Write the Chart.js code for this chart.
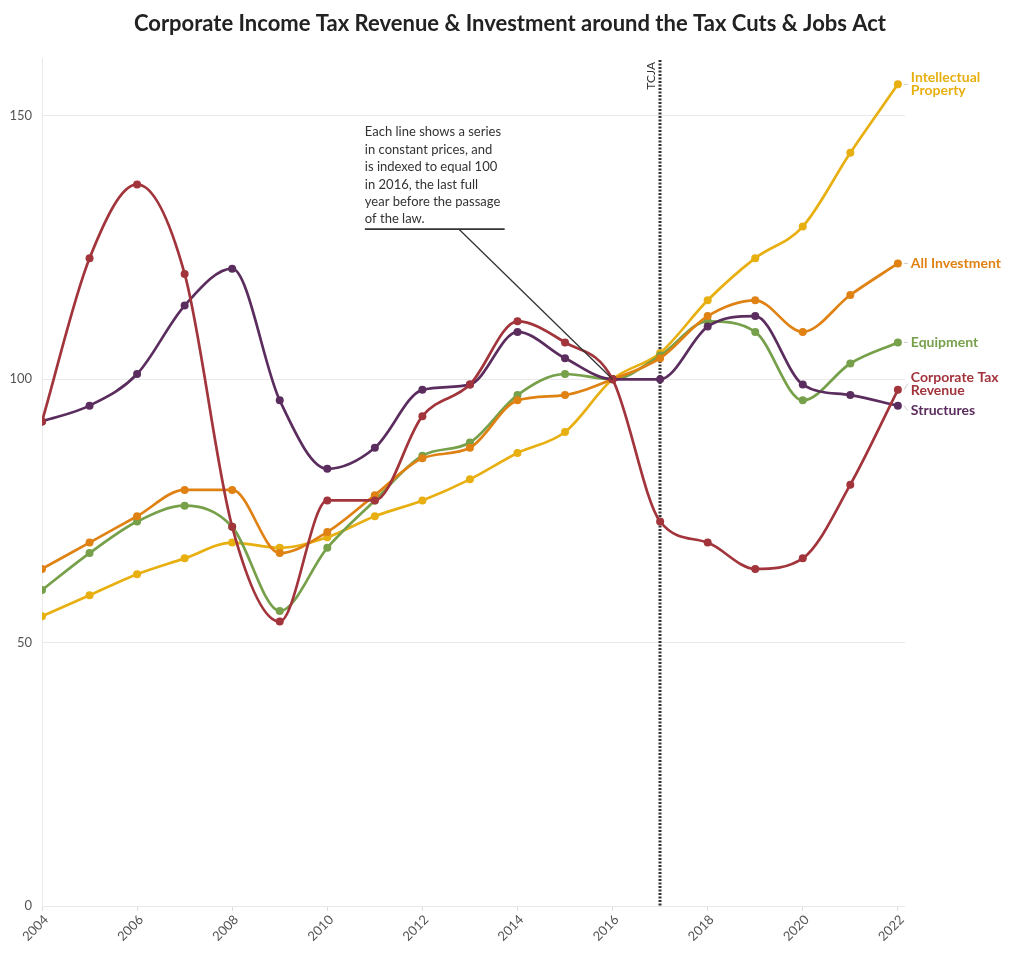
<!DOCTYPE html>
<html>
<head>
<meta charset="utf-8">
<script src="https://cdn.jsdelivr.net/npm/chart.js@4/dist/chart.umd.min.js"></script>
<style>
  html, body { margin: 0; padding: 0; background: #fff; }
  #wrap { width: 1020px; height: 960px; }
</style>
</head>
<body>
<div id="wrap"><canvas id="taxChart" width="1020" height="960"></canvas></div>
<script>
// years and series (index, 2016 = 100)
const years = [2004, 2005, 2006, 2007, 2008, 2009, 2010, 2011, 2012, 2013,
               2014, 2015, 2016, 2017, 2018, 2019, 2020, 2021, 2022];

const intellectualProperty = [55, 59, 63, 66, 69, 68, 70, 74, 77, 81, 86, 90, 100, 105, 115, 123, 129, 143, 156];
const allInvestment = [64, 69, 74, 79, 79, 67, 71, 78, 85, 87, 96, 97, 100, 104, 112, 115, 109, 116, 122];
const equipment = [60, 67, 73, 76, 72, 56, 68, 77, 85.5, 88, 97, 101, 100, 104.5, 111, 109, 96, 103, 107];
const corporateTax = [92, 123, 137, 120, 72, 54, 77, 77, 93, 99, 111, 107, 100, 73, 69, 64, 66, 80, 98];
const structures = [92, 95, 101, 114, 121, 96, 83, 87, 98, 99, 109, 104, 100, 100, 110, 112, 99, 97, 95];

const yTicks = [0, 50, 100, 150];
const xTicks = [2004, 2006, 2008, 2010, 2012, 2014, 2016, 2018, 2020, 2022];

const seriesNames = [['Intellectual', 'Property'], ['All Investment'], ['Equipment'], ['Corporate Tax', 'Revenue'], ['Structures']];
const seriesColors = ['#e8af10', '#df8213', '#76a04a', '#a2343c', '#5b2d5e'];
const seriesData = [intellectualProperty, allInvestment, equipment, corporateTax, structures];
const labelNudge = [0, 0, 0, -6, 5];

const titleText = 'Corporate Income Tax Revenue & Investment around the Tax Cuts & Jobs Act';
const lawYear = 2017;
const noteLines = ['Each line shows a series', 'in constant prices, and', 'is indexed to equal 100',
                   'in 2016, the last full', 'year before the passage', 'of the law.'];

const toPoints = (arr) => arr.map((v, i) => ({ x: years[i], y: v }));

const datasets = seriesData.map((arr, i) => ({
    label: seriesNames[i].join(' '),
    data: toPoints(arr),
    borderColor: seriesColors[i],
    backgroundColor: seriesColors[i],
    borderWidth: 2.7,
    pointRadius: 4,
    pointBorderWidth: 0,
    cubicInterpolationMode: 'monotone',
    order: [5, 3, 4, 1, 2][i]
}));

const extrasPlugin = {
    id: 'extras',
    beforeDatasetsDraw(chart) {
        const ctx = chart.ctx;
        const x = chart.scales.x;
        const area = chart.chartArea;
        ctx.save();
        // title, centred on the whole page
        ctx.fillStyle = '#222';
        ctx.font = 'bold 22px Lato';
        ctx.textAlign = 'center';
        ctx.textBaseline = 'middle';
        ctx.fillText(titleText, chart.width / 2, 24);
        // law line
        const lx = Math.round(x.getPixelForValue(lawYear));
        ctx.strokeStyle = '#333';
        ctx.lineWidth = 3;
        ctx.setLineDash([2, 1.5]);
        ctx.beginPath();
        ctx.moveTo(lx, area.top + 2);
        ctx.lineTo(lx, area.bottom);
        ctx.stroke();
        ctx.setLineDash([]);
        ctx.translate(lx - 9, area.top + 4);
        ctx.rotate(-Math.PI / 2);
        ctx.fillStyle = '#333';
        ctx.font = '12px Lato';
        ctx.textAlign = 'right';
        ctx.fillText('TCJA', 0, 0);
        ctx.restore();
    },
    afterDatasetsDraw(chart) {
        const ctx = chart.ctx;
        const x = chart.scales.x;
        const y = chart.scales.y;
        ctx.save();
        // annotation
        ctx.fillStyle = '#333';
        ctx.font = '13px Lato';
        ctx.textAlign = 'left';
        ctx.textBaseline = 'middle';
        const nx = x.getPixelForValue(2010.79);
        const ny = y.getPixelForValue(128.5);
        noteLines.forEach((t, i) => ctx.fillText(t, nx, ny - 97 + i * 17.4));
        ctx.strokeStyle = '#333';
        ctx.lineWidth = 1.8;
        ctx.beginPath();
        ctx.moveTo(nx, ny);
        ctx.lineTo(x.getPixelForValue(2013.73), ny);
        ctx.stroke();
        ctx.lineWidth = 1.3;
        ctx.beginPath();
        ctx.moveTo(x.getPixelForValue(2012.77), ny);
        ctx.lineTo(x.getPixelForValue(2016), y.getPixelForValue(100));
        ctx.stroke();
        // end labels
        ctx.font = 'bold 14px Lato';
        seriesData.forEach((arr, i) => {
            const px = x.getPixelForValue(years[years.length - 1]);
            const py = y.getPixelForValue(arr[arr.length - 1]);
            const cy = py + labelNudge[i];
            ctx.strokeStyle = '#ccc';
            ctx.lineWidth = 1;
            ctx.beginPath();
            ctx.moveTo(px + 6, py);
            ctx.lineTo(px + 10, cy);
            ctx.stroke();
            ctx.fillStyle = seriesColors[i];
            const lines = seriesNames[i];
            lines.forEach((t, j) => {
                ctx.fillText(t, px + 13, cy + (j - (lines.length - 1) / 2) * 13);
            });
        });
        ctx.restore();
    }
};

const ctx = document.getElementById('taxChart').getContext('2d');
const chart = new Chart(ctx, {
    type: 'line',
    data: { datasets: datasets },
    plugins: [extrasPlugin],
    options: {
        responsive: false,
        animation: false,
        layout: { padding: { left: 0, right: 115, top: 58, bottom: 0 } },
        plugins: {
            legend: { display: false },
            tooltip: { enabled: false },
            title: { display: false }
        },
        scales: {
            x: {
                type: 'linear',
                min: 2004,
                max: 2022.15,
                afterBuildTicks: (scale) => { scale.ticks = xTicks.map(v => ({ value: v })); },
                afterFit: (scale) => { scale.height = 54; },
                grid: { display: true, drawOnChartArea: false, tickLength: 5, color: '#ddd' },
                border: { display: false },
                ticks: {
                    minRotation: 45, maxRotation: 45, padding: 1, labelOffset: 4,
                    color: '#555', font: { family: 'Lato', size: 13 },
                    callback: (v) => String(v)
                }
            },
            y: {
                min: 0,
                max: 161,
                afterBuildTicks: (scale) => { scale.ticks = yTicks.map(v => ({ value: v })); },
                afterFit: (scale) => { scale.width = 42; },
                grid: { color: '#e9e9e9', drawTicks: false },
                border: { display: true, color: '#e9e9e9' },
                ticks: { padding: 10, color: '#555', font: { family: 'Lato', size: 13 } }
            }
        }
    }
});
</script>
</body>
</html>
